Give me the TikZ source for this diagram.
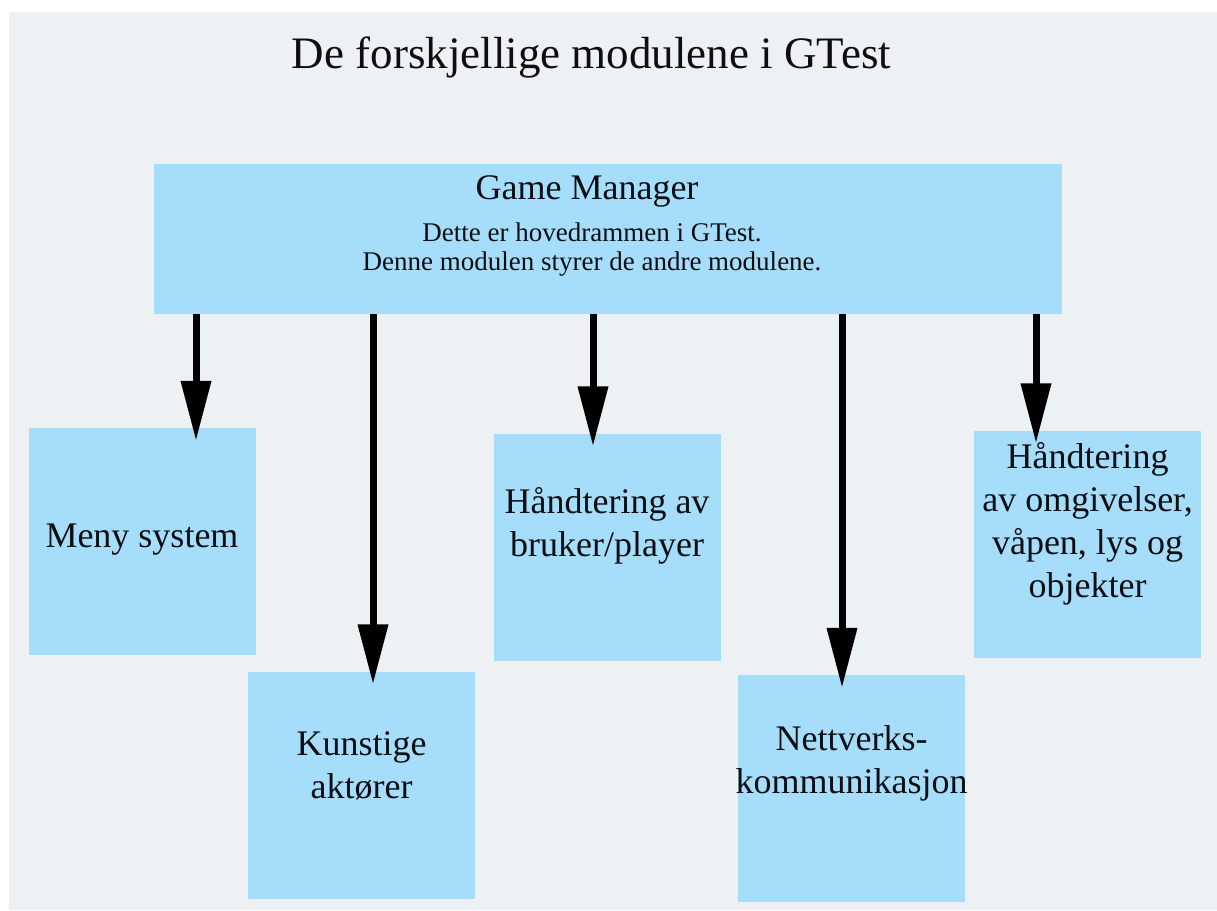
\documentclass[tikz,border=0pt]{standalone}
\usepackage{fontspec}
\setmainfont{Liberation Serif}
\usepackage{xcolor}
\usepackage{tikz}
\usetikzlibrary{arrows.meta, positioning}
\definecolor{pagegray}{RGB}{238, 241, 243}
\definecolor{moduleblue}{RGB}{166, 221, 251}
\definecolor{inkblack}{RGB}{12, 14, 18}
\tikzset{
  gmbox/.style={rectangle, fill=moduleblue, minimum width=908pt,
              minimum height=150pt, inner sep=0pt},
  modbox/.style={rectangle, fill=moduleblue, minimum width=227pt,
              minimum height=227pt, inner sep=0pt},
  modtext/.style={font=\fontsize{36}{43}\selectfont, align=center,
              text=inkblack, inner sep=0pt},
  gmtitle/.style={font=\fontsize{36}{40}\selectfont, text=inkblack, inner sep=0pt},
  gmsub/.style={font=\fontsize{27}{29}\selectfont, align=center,
              text=inkblack, inner sep=0pt},
  arrow/.style={-{Triangle[length=60pt, width=29pt]}, line width=7pt,
              color=black, shorten >=-13pt},
}
\begin{document}
\begin{tikzpicture}[x=1pt, y=-1pt]
  \useasboundingbox (0,0) rectangle (1217,910);
  \fill[white] (0,0) rectangle (1217,910);
  \fill[pagegray] (9,12) rectangle (1217,910);

  \node[font=\fontsize{45}{50}\selectfont, text=inkblack, anchor=base] (title) at (591.5,68)
        {De forskjellige modulene i GTest};

  \node[gmbox,
        label={[gmtitle, xshift=-21pt, yshift=48pt]center:Game Manager},
        label={[gmsub, xshift=-16pt, yshift=-11pt]center:Dette er hovedrammen i GTest.\\Denne modulen styrer de andre modulene.}]
        (gm) at (608,239) {};

  \node[modbox, label={[modtext, yshift=2pt]center:Meny system}] (meny) at (142,541.5) {};
  \node[modbox, label={[modtext, yshift=19pt]center:Kunstige\\aktører}] (kunst) at (361.5,785) {};
  \node[modbox, label={[modtext, yshift=21pt]center:Håndtering av\\bruker/player}] (bruker) at (607,547) {};
  \node[modbox, label={[modtext, yshift=25pt]center:Nettverks-\\kommunikasjon}] (nett) at (851.5,788.5) {};
  \node[modbox, label={[modtext, yshift=20pt]center:Håndtering\\av omgivelser,\\våpen, lys og\\objekter}] (omgiv) at (1087.5,544) {};

  \foreach \mod/\dx in {meny/54, kunst/11.5, bruker/-14, nett/-9.5, omgiv/-51.5} {
    \coordinate (tip) at ([xshift=\dx pt]\mod.north);
    \draw[arrow] (tip |- gm.south) -- (tip);
  }
\end{tikzpicture}
\end{document}
